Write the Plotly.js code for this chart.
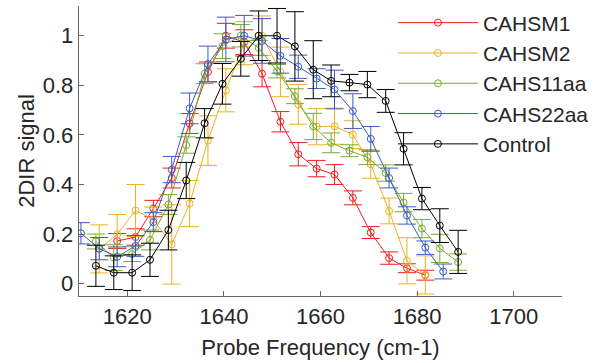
<!DOCTYPE html>
<html>
<head>
<meta charset="utf-8">
<script src="https://cdn.plot.ly/plotly-3.0.1.min.js"></script>
<style>html,body{margin:0;padding:0;background:#fff;}#chart{width:607px;height:363px;}</style>
</head>
<body>
<div id="chart"></div>
<script>
// Series names
const seriesNames = ["CAHSM1", "CAHSM2", "CAHS11aa", "CAHS22aa", "Control"];

// CAHSM1 (red)
const xRed = [1617.9, 1621.7, 1625.4, 1629.2, 1632.9, 1636.7, 1640.4, 1644.2, 1647.9, 1651.7, 1655.4, 1659.2, 1662.9, 1666.7, 1670.4, 1674.2, 1677.9, 1681.7];
const yRed = [0.172, 0.188, 0.303, 0.426, 0.646, 0.854, 1.0, 0.974, 0.847, 0.653, 0.522, 0.464, 0.440, 0.346, 0.206, 0.103, 0.062, 0.034];
const eRed = [0.03, 0.033, 0.033, 0.04, 0.04, 0.04, 0.05, 0.05, 0.053, 0.041, 0.047, 0.033, 0.04, 0.028, 0.024, 0.025, 0.018, 0.02];

// CAHSM2 (yellow)
const xYel = [1614.2, 1617.9, 1621.7, 1625.4, 1629.2, 1632.9, 1636.7, 1640.4, 1644.2, 1647.9, 1651.7, 1655.4, 1659.2, 1662.9, 1666.7, 1670.4, 1674.2, 1677.9, 1681.7];
const yYel = [0.140, 0.199, 0.295, 0.259, 0.158, 0.323, 0.577, 0.780, 0.970, 1.0, 0.854, 0.723, 0.633, 0.635, 0.601, 0.481, 0.293, 0.092, 0.035];
const eYel = [0.097, 0.08, 0.105, 0.05, 0.16, 0.093, 0.1, 0.087, 0.087, 0.08, 0.1, 0.08, 0.073, 0.073, 0.056, 0.056, 0.052, 0.093, 0.077];

// CAHS11aa (green)
const xGrn = [1613.5, 1617.2, 1621.0, 1624.7, 1628.5, 1632.2, 1636.0, 1639.7, 1643.5, 1647.2, 1651.0, 1654.7, 1658.5, 1662.2, 1666.0, 1669.7, 1673.5, 1677.2, 1681.0, 1684.7, 1688.5];
const yGrn = [0.170, 0.105, 0.119, 0.176, 0.319, 0.559, 0.847, 0.958, 1.0, 0.951, 0.857, 0.756, 0.634, 0.568, 0.536, 0.510, 0.446, 0.327, 0.222, 0.142, 0.087];
const eGrn = [0.03, 0.052, 0.03, 0.04, 0.04, 0.033, 0.04, 0.05, 0.045, 0.03, 0.027, 0.03, 0.053, 0.04, 0.024, 0.03, 0.033, 0.037, 0.037, 0.057, 0.033];

// CAHS22aa (blue)
const xBlu = [1610.4, 1614.2, 1617.9, 1621.7, 1625.4, 1629.2, 1632.9, 1636.7, 1640.4, 1644.2, 1647.9, 1651.7, 1655.4, 1659.2, 1662.9, 1666.7, 1670.4, 1674.2, 1677.9, 1681.7, 1685.4];
const yBlu = [0.203, 0.141, 0.108, 0.152, 0.248, 0.460, 0.707, 0.886, 0.985, 1.0, 0.979, 0.919, 0.875, 0.827, 0.783, 0.696, 0.584, 0.426, 0.275, 0.145, 0.049];
const eBlu = [0.043, 0.045, 0.04, 0.042, 0.038, 0.053, 0.062, 0.072, 0.09, 0.082, 0.09, 0.07, 0.047, 0.04, 0.078, 0.07, 0.05, 0.04, 0.035, 0.027, 0.03];

// Control (black)
const xBlk = [1613.5, 1617.2, 1621.0, 1624.7, 1628.5, 1632.2, 1636.0, 1639.7, 1643.5, 1647.2, 1651.0, 1654.7, 1658.5, 1662.2, 1666.0, 1669.7, 1673.5, 1677.2, 1681.0, 1684.7, 1688.5];
const yBlk = [0.072, 0.044, 0.044, 0.096, 0.216, 0.416, 0.647, 0.806, 0.907, 1.0, 1.0, 0.957, 0.863, 0.818, 0.811, 0.803, 0.737, 0.544, 0.343, 0.234, 0.128];
const eBlk = [0.083, 0.068, 0.072, 0.067, 0.08, 0.073, 0.059, 0.082, 0.07, 0.10, 0.11, 0.14, 0.117, 0.064, 0.033, 0.053, 0.046, 0.065, 0.045, 0.068, 0.087];

const xTicks = [1620, 1640, 1660, 1680, 1700];
const yTicks = [0, 0.2, 0.4, 0.6, 0.8, 1];

const colors = ["#F21C1C", "#EDB120", "#77AC30", "#3A5CC4", "#000000"];

function mk(name, x, y, e, color) {
  return {
    type: "scatter", mode: "lines+markers", name: name,
    x: x, y: y,
    line: {color: color, width: 1},
    marker: {symbol: "circle-open", size: 7, color: color, line: {width: 1, color: color}},
    error_y: {type: "data", array: e, visible: true, color: color, thickness: 1, width: 9}
  };
}

const data = [
  mk(seriesNames[0], xRed, yRed, eRed, colors[0]),
  mk(seriesNames[1], xYel, yYel, eYel, colors[1]),
  mk(seriesNames[2], xGrn, yGrn, eGrn, colors[2]),
  mk(seriesNames[3], xBlu, yBlu, eBlu, colors[3]),
  mk(seriesNames[4], xBlk, yBlk, eBlk, colors[4])
];

const font = {family: "Liberation Sans, Arial, sans-serif", color: "#262626"};

const layout = {
  width: 607, height: 363,
  margin: {l: 79, r: 45, t: 3, b: 67, pad: 0},
  paper_bgcolor: "#fff", plot_bgcolor: "#fff",
  showlegend: true,
  font: Object.assign({size: 22}, font),
  xaxis: {
    range: [1610, 1710], tickvals: xTicks, ticktext: xTicks.map(String),
    ticks: "inside", ticklen: 5, tickcolor: "#666", showline: true, linecolor: "#666", linewidth: 1.3,
    showgrid: false, zeroline: false, mirror: false,
    tickfont: Object.assign({size: 22}, font),
    title: {text: "Probe Frequency (cm-1)", font: Object.assign({size: 22}, font), standoff: 12}
  },
  yaxis: {
    range: [-0.05, 1.12], tickvals: yTicks, ticktext: yTicks.map(String),
    ticks: "inside", ticklen: 5, tickcolor: "#666", showline: true, linecolor: "#666", linewidth: 1.3,
    showgrid: false, zeroline: false, mirror: false,
    tickfont: Object.assign({size: 22}, font),
    title: {text: "2DIR signal", font: Object.assign({size: 22}, font), standoff: 2}
  },
  legend: {
    x: 0.65, y: 1.012, xanchor: "left", yanchor: "top",
    bgcolor: "rgba(255,255,255,0)", borderwidth: 0,
    font: Object.assign({size: 21}, font),
    itemwidth: 80, tracegroupgap: 0
  }
};

Plotly.newPlot("chart", data, layout, {staticPlot: true, displayModeBar: false});
</script>
</body>
</html>
